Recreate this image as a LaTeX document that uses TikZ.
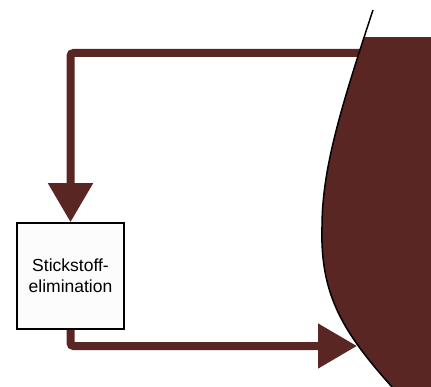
\documentclass[tikz,border=0pt]{standalone}
\usepackage{fontspec}
\setmainfont{Liberation Sans}
\usepackage{tikz}
\usetikzlibrary{arrows.meta, calc}
\definecolor{rust}{RGB}{90,38,36}

\begin{document}
\begin{tikzpicture}[x=1pt,y=-1pt,
        flow/.style={draw=rust, line width=8pt, rounded corners=3pt,
            -{Triangle[width=43pt,length=39pt]}},
        procbox/.style={draw=black, line width=1.5pt, fill=white!99!black,
            minimum width=107pt, minimum height=106pt, inner sep=0pt,
            align=center, font=\fontsize{17.5}{21}\selectfont}]
        \useasboundingbox (0,0) rectangle (431,387);

        % Draw the process box
        \node[procbox] (elim) at (70.5,276) {Stickstoff-\\elimination};

        % Ends of the connectors on the boundary
        \coordinate (src) at (362,53);
        \coordinate (dst) at (357,346);

        % Draw the flows
        \draw[flow] (src) -| (elim.north);
        \draw[flow] (elim.south) |- (dst);

        % Draw the filled region
        \begin{scope}
            \clip (0,38) rectangle (431,387);
            \fill[rust] (373,10) .. controls (340,110) and (322,170) .. (322,227)
                .. controls (320,295) and (343,332) .. (392,387)
                -- (431,387) -- (431,10) -- cycle;
        \end{scope}
        \draw[line width=1.5pt] (373,10) .. controls (340,110) and (322,170) .. (322,227)
            .. controls (320,295) and (343,332) .. (392,387);
    \end{tikzpicture}
\end{document}
